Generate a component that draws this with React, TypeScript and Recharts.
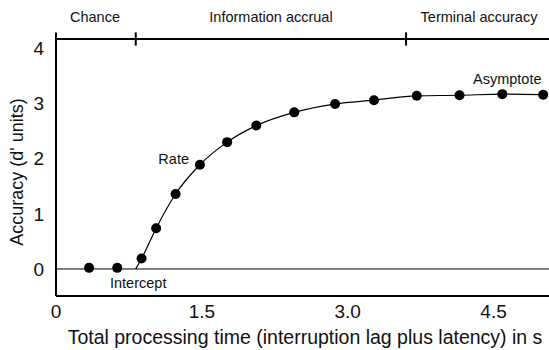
import { ComposedChart, Line, Scatter, XAxis, YAxis, ReferenceLine } from 'recharts';

// Observed accuracy points (time in s, d')
const times = [0.34, 0.63, 0.88, 1.03, 1.23, 1.48, 1.76, 2.06, 2.45, 2.87, 3.27, 3.71, 4.15, 4.59, 5.01];
const accuracy = [0.02, 0.02, 0.19, 0.74, 1.36, 1.89, 2.3, 2.6, 2.84, 2.99, 3.06, 3.14, 3.15, 3.17, 3.16];

// Fitted curve: starts at the intercept, then runs through the points above chance
const intercept = 0.82;
const phaseBounds = [0, 0.82, 3.6, 5.07];
const phaseLabels = ['Chance', 'Information accrual', 'Terminal accuracy'];
const xTicks = [0, 1.5, 3, 4.5];
const yTicks = [0, 1, 2, 3, 4];

const points = times.map((t, i) => ({ t, d: accuracy[i] }));
const curve = [{ t: intercept, d: 0 }, ...points.slice(2)];

const FONT = '"Liberation Sans", Arial, Helvetica, sans-serif';
const Y_TOP = 4.17;

function Label({ x, y, text, size = 14.5, anchor = 'left' }: any) {
  const transform = anchor === 'center' ? 'translateX(-50%)' : anchor === 'right' ? 'translateX(-100%)' : undefined;
  return (
    <div style={{ position: 'absolute', left: x, top: y, fontSize: size, fontFamily: FONT, color: '#111', whiteSpace: 'nowrap', transform, lineHeight: 1 }}>
      {text}
    </div>
  );
}

export default function App() {
  return (
    <div style={{ position: 'absolute', left: 0, top: 0, width: 549, height: 350, background: '#fff', fontFamily: FONT }}>
      <ComposedChart width={549} height={350} margin={{ top: 39, right: 0, bottom: 24, left: 0 }}>
        <XAxis
          type="number"
          dataKey="t"
          domain={[0, 5.07]}
          ticks={xTicks}
          tickFormatter={(v: number) => (v === 0 ? '0' : v.toFixed(1))}
          tickLine={false}
          axisLine={{ stroke: '#000', strokeWidth: 2 }}
          tick={{ fill: '#111', fontSize: 19, fontFamily: FONT }}
          tickMargin={3}
          height={30}
          allowDataOverflow
        />
        <YAxis
          type="number"
          dataKey="d"
          domain={[-0.49, Y_TOP]}
          ticks={yTicks}
          width={56}
          tickLine={false}
          axisLine={{ stroke: '#000', strokeWidth: 2 }}
          tick={{ fill: '#111', fontSize: 19, fontFamily: FONT }}
          tickMargin={6}
          allowDataOverflow
        />
        <ReferenceLine y={0} stroke="#000" strokeWidth={1} />
        <ReferenceLine
          segment={[{ x: 0, y: Y_TOP }, { x: 5.07, y: Y_TOP }]}
          stroke="#000"
          strokeWidth={2}
          ifOverflow="visible"
        />
        {phaseBounds.slice(0, 3).map((b) => (
          <ReferenceLine
            key={b}
            segment={[{ x: b, y: Y_TOP - 0.12 }, { x: b, y: Y_TOP + 0.12 }]}
            stroke="#000"
            strokeWidth={2}
            ifOverflow="visible"
          />
        ))}
        <Line
          data={curve}
          dataKey="d"
          type="monotone"
          stroke="#000"
          strokeWidth={1.2}
          dot={false}
          isAnimationActive={false}
        />
        <Scatter
          data={points}
          dataKey="d"
          fill="#000"
          shape={(p: any) => <circle cx={p.cx} cy={p.cy} r={5} fill="#000" />}
          isAnimationActive={false}
        />
      </ComposedChart>
      <Label x={95} y={10} text={phaseLabels[0]} anchor="center" />
      <Label x={271} y={10} text={phaseLabels[1]} anchor="center" />
      <Label x={479} y={10} text={phaseLabels[2]} anchor="center" />
      <Label x={189} y={152} text="Rate" anchor="right" />
      <Label x={110} y={276} text="Intercept" />
      <Label x={473} y={72} text="Asymptote" />
      <Label x={305} y={328} text="Total processing time (interruption lag plus latency) in s" size={19.5} anchor="center" />
      <div
        style={{
          position: 'absolute',
          left: 17,
          top: 172,
          fontSize: 18,
          fontFamily: FONT,
          color: '#111',
          whiteSpace: 'nowrap',
          lineHeight: 1,
          transform: 'translate(-50%, -50%) rotate(-90deg)',
        }}
      >
        Accuracy (d' units)
      </div>
    </div>
  );
}
